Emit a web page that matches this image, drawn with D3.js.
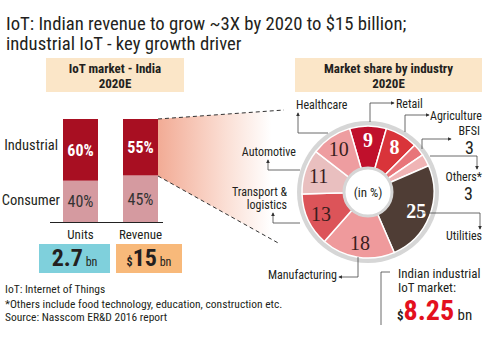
<!DOCTYPE html>
<html>
<head>
<meta charset="utf-8">
<script src="https://d3js.org/d3.v7.min.js"></script>
<style>
  body { margin: 0; background: #fff; }
  svg text { font-family: "Roboto Condensed", "DejaVu Sans Condensed", sans-serif; fill: #231f20; }
</style>
</head>
<body>
<svg id="chart" width="495" height="340"></svg>
<script>
// ---- data ----
var barCats = ["Units", "Revenue"];
var industrialShare = [60, 55];
var consumerShare = [40, 45];
var barTotals = [["", "2.7", "bn"], ["$", "15", "bn"]];

var industries = ["Retail", "Agriculture", "BFSI", "Others*", "Utilities", "Manufacturing", "Transport & logistics", "Automotive", "Healthcare"];
var shares = [9, 8, 3, 3, 25, 18, 13, 11, 10];
var sliceColors = ["#c0102c", "#d9343a", "#e8757a", "#f0b4b5", "#4f3d35", "#ef9a9c", "#dc5459", "#e9bfbf", "#ee9da0"];

var svg = d3.select("#chart");

// title
svg.append("text").attr("x", 6).attr("y", 30).style("font-size", "18.7px")
  .text("IoT: Indian revenue to grow ~3X by 2020 to $15 billion;");
svg.append("text").attr("x", 6).attr("y", 50).style("font-size", "18.7px")
  .text("industrial IoT - key growth driver");

// header boxes
function header(x, w, l1, l2) {
  svg.append("rect").attr("x", x).attr("y", 58).attr("width", w).attr("height", 34).attr("fill", "#fbe6c8");
  svg.append("text").attr("x", x + w / 2).attr("y", 73).attr("text-anchor", "middle")
    .style("font-size", "13px").style("font-weight", "bold").text(l1);
  svg.append("text").attr("x", x + w / 2).attr("y", 88).attr("text-anchor", "middle")
    .style("font-size", "13px").style("font-weight", "bold").text(l2);
}
header(46, 138, "IoT market - India", "2020E");
header(295, 187, "Market share by industry", "2020E");

// ---- connector wedge ----
var defs = svg.append("defs");
var grad = defs.append("linearGradient").attr("id", "wedge").attr("x1", "0").attr("x2", "1").attr("y1", "0").attr("y2", "0");
grad.append("stop").attr("offset", "0").attr("stop-color", "#f2ab95");
grad.append("stop").attr("offset", "0.55").attr("stop-color", "#fbe0d6");
grad.append("stop").attr("offset", "0.9").attr("stop-color", "#ffffff");
svg.append("path").attr("d", "M158,119 L284,110 L280,244 L158,176 Z").attr("fill", "url(#wedge)");
svg.append("line").attr("x1", 158).attr("y1", 119).attr("x2", 284).attr("y2", 110)
  .attr("stroke", "#333").attr("stroke-dasharray", "4,3");
svg.append("line").attr("x1", 158).attr("y1", 176).attr("x2", 280).attr("y2", 244)
  .attr("stroke", "#333").attr("stroke-dasharray", "4,3");

// ---- stacked bars ----
var x = d3.scaleBand().domain(barCats).range([63, 158]).paddingInner(0.4167).paddingOuter(0);
var y = d3.scaleLinear().domain([0, 100]).range([222, 119]);

barCats.forEach(function (c, i) {
  var bx = x(c), bw = x.bandwidth();
  svg.append("rect").attr("x", bx).attr("y", y(100)).attr("width", bw)
    .attr("height", y(consumerShare[i]) - y(100)).attr("fill", "#a80f22");
  svg.append("rect").attr("x", bx).attr("y", y(consumerShare[i])).attr("width", bw)
    .attr("height", y(0) - y(consumerShare[i])).attr("fill", "#d59aa0");
  svg.append("text").attr("x", bx + bw / 2).attr("y", (y(100) + y(consumerShare[i])) / 2 + 6)
    .attr("text-anchor", "middle").style("font-size", "16px").style("font-weight", "bold")
    .style("fill", "#fff").text(industrialShare[i] + "%");
  svg.append("text").attr("x", bx + bw / 2).attr("y", (y(0) + y(consumerShare[i])) / 2 + 6)
    .attr("text-anchor", "middle").style("font-size", "16px").style("fill", "#333")
    .text(consumerShare[i] + "%");
  svg.append("text").attr("x", bx + bw / 2).attr("y", 239).attr("text-anchor", "middle")
    .style("font-size", "13px").text(c);
});
svg.append("line").attr("x1", 50).attr("x2", 163).attr("y1", 222.5).attr("y2", 222.5).attr("stroke", "#222").attr("stroke-width", 1.2);
svg.append("text").attr("x", 58).attr("y", 150).attr("text-anchor", "end").style("font-size", "14.5px").text("Industrial");
svg.append("text").attr("x", 60).attr("y", 205).attr("text-anchor", "end").style("font-size", "14.5px").text("Consumer");

// totals
var boxes = [[39, 71, "#7fd0dc"], [116, 66, "#f8b97a"]];
boxes.forEach(function (b, i) {
  svg.append("rect").attr("x", b[0]).attr("y", 244).attr("width", b[1]).attr("height", 29).attr("fill", b[2]);
  var t = svg.append("text").attr("x", b[0] + b[1] / 2).attr("y", 266).attr("text-anchor", "middle");
  t.append("tspan").style("font-size", "12px").style("font-weight", "bold").text(barTotals[i][0]);
  t.append("tspan").style("font-size", "24px").style("font-weight", "bold").text(barTotals[i][1]);
  t.append("tspan").style("font-size", "12px").text(" " + barTotals[i][2]);
});

// footnotes
svg.append("text").attr("x", 5).attr("y", 293).style("font-size", "11.5px").text("IoT: Internet of Things");
svg.append("text").attr("x", 5).attr("y", 308).style("font-size", "11.5px").text("*Others include food technology, education, construction etc.");
svg.append("text").attr("x", 5).attr("y", 321).style("font-size", "11.5px").text("Source: Nasscom ER&D 2016 report");

// ---- pie ----
var cx = 368, cy = 192;
var g = svg.append("g").attr("transform", "translate(" + cx + "," + cy + ")");
g.append("circle").attr("r", 71).attr("fill", "#d6d6d6");
var offset = -shares[0] / 100 * Math.PI;
var pie = d3.pie().sort(null).startAngle(offset).endAngle(offset + 2 * Math.PI);
var arc = d3.arc().innerRadius(24).outerRadius(66);
var arcs = pie(shares);
g.selectAll("path.slice").data(arcs).enter().append("path").attr("class", "slice")
  .attr("d", arc).attr("fill", function (d, i) { return sliceColors[i]; })
  .attr("stroke", "#fff").attr("stroke-width", 1.5);
g.append("circle").attr("r", 24).attr("fill", "#fff").attr("stroke", "#d6d6d6").attr("stroke-width", 3);
g.append("text").attr("y", 5).attr("text-anchor", "middle").style("font-size", "13px").text("(in %)");

var labelArc = d3.arc().innerRadius(52).outerRadius(52);
var dark = [true, true, false, false, true, false, false, false, false];
g.selectAll("text.val").data(arcs).enter().filter(function (d) { return d.data > 3; })
  .append("text").attr("class", "val")
  .attr("x", function (d) { return labelArc.centroid(d)[0]; })
  .attr("y", function (d) { return labelArc.centroid(d)[1] + 7; })
  .attr("text-anchor", "middle")
  .style("font-family", "'Liberation Serif', serif")
  .style("font-size", "20px")
  .style("font-weight", function (d) { return dark[d.index] ? "bold" : "normal"; })
  .style("fill", function (d) { return dark[d.index] ? "#fff" : "#3a1d1d"; })
  .text(function (d) { return d.data; });

// leader lines with arrows
defs.append("marker").attr("id", "arr").attr("viewBox", "0 0 6 6").attr("refX", 5).attr("refY", 3)
  .attr("markerWidth", 5).attr("markerHeight", 5).attr("orient", "auto")
  .append("path").attr("d", "M0,0 L6,3 L0,6 Z").attr("fill", "#333");
function leader(pts) {
  svg.append("path").attr("d", d3.line()(pts)).attr("fill", "none").attr("stroke", "#444")
    .attr("stroke-width", 0.8).attr("marker-end", "url(#arr)");
}
leader([[328, 133], [298, 133], [298, 113]]);
leader([[370, 122], [370, 103], [394, 103]]);
leader([[405, 132], [405, 115], [429, 115]]);
leader([[422, 149], [422, 139], [451, 139]]);
leader([[430, 156], [477, 156], [477, 169]]);
leader([[423, 213], [480, 213], [480, 229]]);
leader([[358, 257], [358, 277], [339, 277]]);
leader([[300, 223], [273, 223], [273, 213]]);
leader([[300, 170], [268, 170], [268, 160]]);

function lbl(x, y, anchor, t, size) {
  svg.append("text").attr("x", x).attr("y", y).attr("text-anchor", anchor).style("font-size", (size || 12) + "px").text(t);
}
lbl(296, 109, "start", "Healthcare");
lbl(396, 108, "start", "Retail");
lbl(430, 120, "start", "Agriculture");
lbl(480, 135, "end", "BFSI");
lbl(474, 154, "end", "3", 18);
lbl(482, 181, "end", "Others*");
lbl(473, 200, "end", "3", 18);
lbl(482, 240, "end", "Utilities");
lbl(337, 279, "end", "Manufacturing");
lbl(287, 196, "end", "Transport &");
lbl(287, 209, "end", "logistics");
lbl(296, 156, "end", "Automotive");

// industrial IoT market callout
svg.append("path").attr("d", "M390,272 L381,272 L381,325").attr("fill", "none").attr("stroke", "#444").attr("stroke-width", 0.8);
lbl(398, 278, "start", "Indian industrial", 13);
lbl(398, 292, "start", "IoT market:", 13);
var big = svg.append("text").attr("x", 397).attr("y", 320);
big.append("tspan").style("font-size", "13px").style("font-weight", "bold").text("$");
big.append("tspan").style("font-size", "28px").style("font-weight", "bold").style("fill", "#e3101e").text("8.25");
big.append("tspan").style("font-size", "15px").text(" bn");
</script>
</body>
</html>
